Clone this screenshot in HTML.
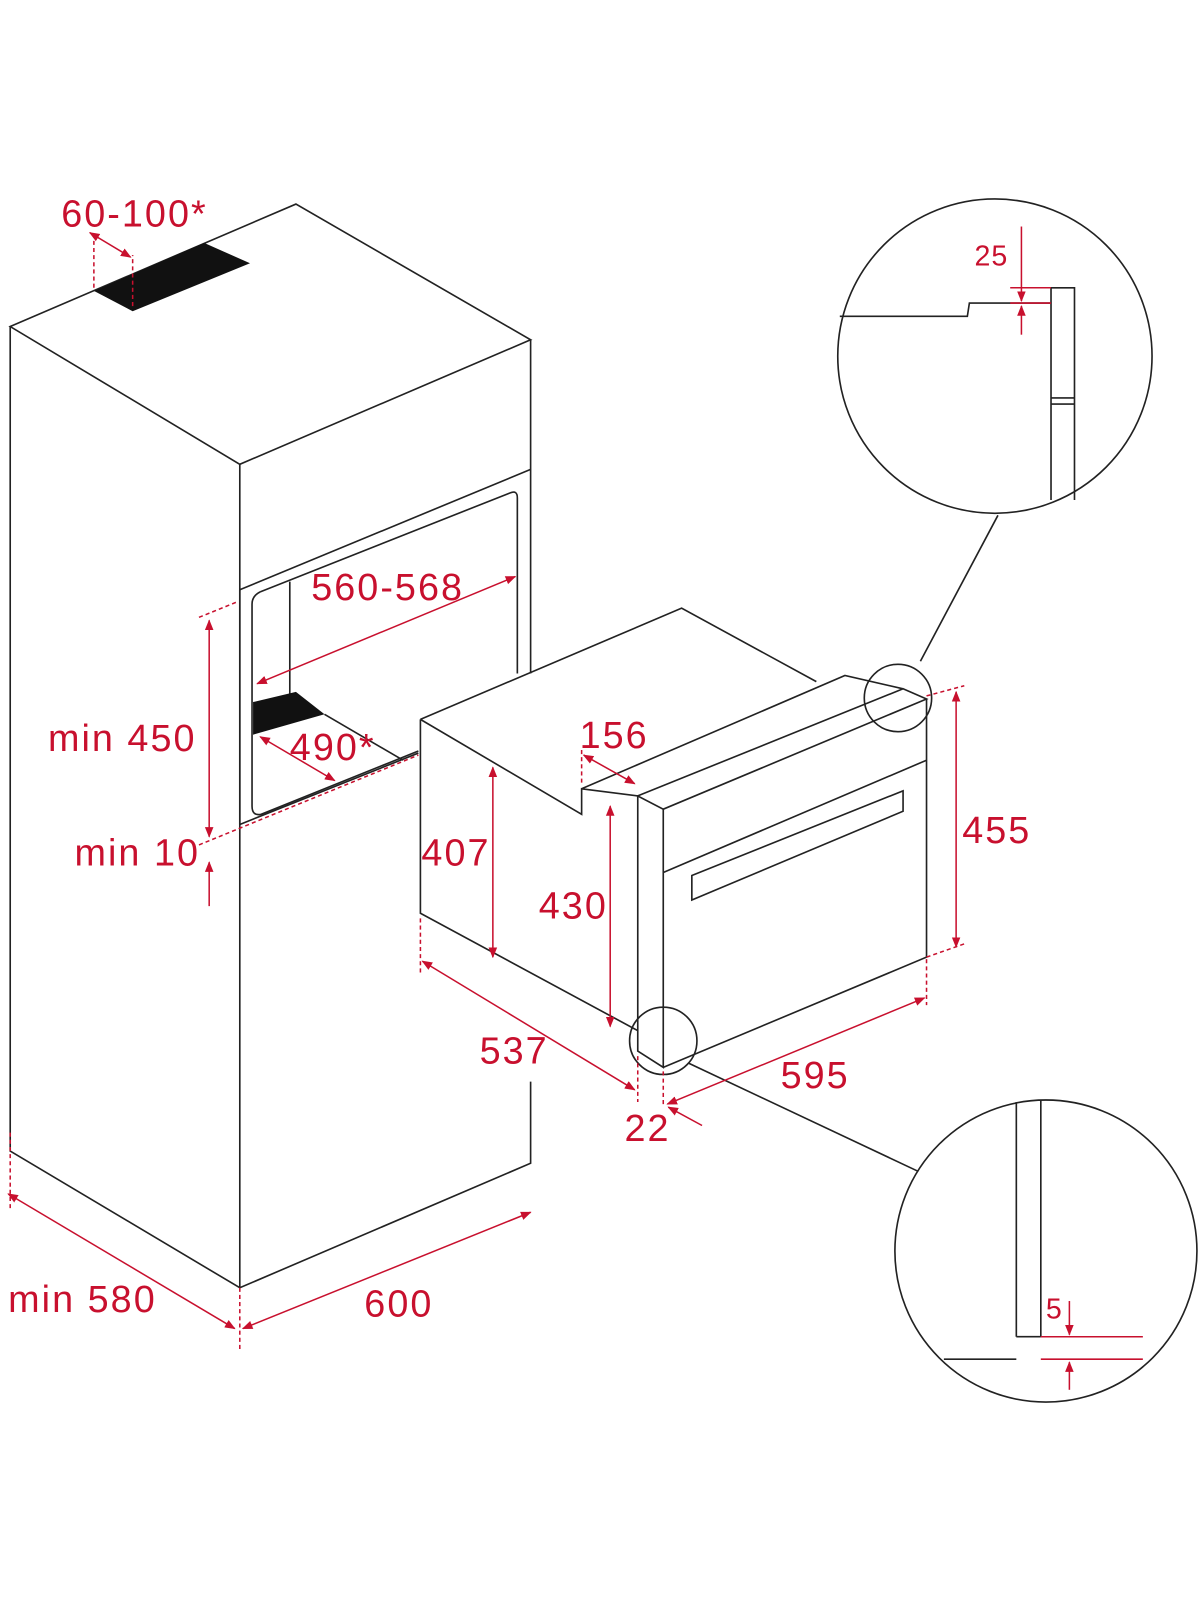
<!DOCTYPE html>
<html><head><meta charset="utf-8"><style>
html,body{margin:0;padding:0;background:#fff;}
svg{display:block}
text{font-family:"Liberation Sans",sans-serif;fill:#c8102e;font-size:37px;letter-spacing:2px}
</style></head><body>
<svg width="1200" height="1600" viewBox="0 0 1176 1568" xmlns="http://www.w3.org/2000/svg">
<defs>
<marker id="a" viewBox="0 0 10 10" refX="9" refY="5" markerWidth="7" markerHeight="7" orient="auto-start-reverse"><path d="M0,1 L10,5 L0,9 z" fill="#c8102e"/></marker>
</defs>
<g fill="none" stroke="#222" stroke-width="1.6">
<path d="M10,320 L290,200 L520,333 L235,455 Z"/>
<path d="M10,320 L10,1128 L235,1262 L520,1140 L520,1060"/>
<path d="M235,455 L235,1262"/>
<path d="M520,333 L520,660"/>
<path d="M235,578 L520,460"/>
<path d="M235,808 L410,738"/>
<path d="M235,578 L235,808"/>
<path d="M255,580 L500,483 Q507,480 507,488 L507,660"/>
<path d="M255,580 Q247,584 247,592 L247,790 Q247,800 256,798 L410,736"/>
<path d="M284,570 L284,680"/>
<path d="M318,700 L395,745"/>
<path d="M412,705 L668,596 L800,668"/>
<path d="M412,705 L412,895 L625,1010"/>
<path d="M412,705 L570,798 L570,773 L625,780"/>
<path d="M570,773 L828,662 L885,675"/>
<path d="M625,780 L885,675 L908,685 L650,793 Z"/>
<path d="M625,780 L625,1030 L650,1046 L650,793"/>
<path d="M650,1046 L908,938 L908,685"/>
<path d="M650,855 L908,745"/>
<path d="M678,858 L885,775 L885,795 L678,882 Z"/>
<circle cx="975" cy="349" r="154"/>
<circle cx="1025" cy="1226" r="148"/>
<circle cx="880" cy="684" r="33"/>
<circle cx="650" cy="1020" r="33"/>
<path d="M902,648 L978,505"/>
<path d="M675,1042 L900,1148"/>
<path d="M823,310 L948,310 L950,297 L1030,297"/>
<path d="M1030,282 L1053,282 L1053,490 M1030,282 L1030,490 M1030,390 L1053,390 M1030,396 L1053,396"/>
<path d="M996,1080 L996,1310 M1020,1078 L1020,1310 M996,1310 L1020,1310"/>
<path d="M925,1332 L996,1332"/>
</g>
<g fill="#111">
<path d="M92,285 L200,238 L245,258 L130,305 Z"/>
<path d="M248,688 L290,678 L318,700 L248,720 Z"/>
</g>
<g stroke="#c8102e" stroke-width="1.5" fill="none">
<path d="M92,282 L92,232 M130,300 L130,250" stroke-dasharray="4,3"/>
<path d="M88,228 L128,252" marker-start="url(#a)" marker-end="url(#a)"/>
<path d="M252,670 L505,565" marker-start="url(#a)" marker-end="url(#a)"/>
<path d="M255,722 L328,765" marker-start="url(#a)" marker-end="url(#a)"/>
<path d="M195,605 L232,590 M195,828 L410,740" stroke-dasharray="4,3"/>
<path d="M205,608 L205,820" marker-start="url(#a)" marker-end="url(#a)"/>
<path d="M205,845 L205,888" marker-start="url(#a)"/>
<path d="M10,1110 L10,1185 M235,1262 L235,1325" stroke-dasharray="4,3"/>
<path d="M8,1170 L230,1302" marker-start="url(#a)" marker-end="url(#a)"/>
<path d="M238,1302 L520,1188" marker-start="url(#a)" marker-end="url(#a)"/>
<path d="M483,752 L483,938" marker-start="url(#a)" marker-end="url(#a)"/>
<path d="M598,790 L598,1006" marker-start="url(#a)" marker-end="url(#a)"/>
<path d="M412,900 L412,955 M625,1035 L625,1080 M650,1050 L650,1085 M908,940 L908,985" stroke-dasharray="4,3"/>
<path d="M414,942 L622,1068" marker-start="url(#a)" marker-end="url(#a)"/>
<path d="M654,1082 L906,978" marker-start="url(#a)" marker-end="url(#a)"/>
<path d="M572,740 L622,768" marker-start="url(#a)" marker-end="url(#a)"/>
<path d="M570,735 L570,770" stroke-dasharray="4,3"/>
<path d="M908,682 L945,672 M908,938 L945,925" stroke-dasharray="4,3"/>
<path d="M937,678 L937,928" marker-start="url(#a)" marker-end="url(#a)"/>
<path d="M655,1085 L688,1103" marker-start="url(#a)"/>
<path d="M1001,222 L1001,295" marker-end="url(#a)"/>
<path d="M1001,328 L1001,300" marker-end="url(#a)"/>
<path d="M990,282 L1030,282 M990,297 L1030,297"/>
<path d="M1048,1275 L1048,1308" marker-end="url(#a)"/>
<path d="M1048,1362 L1048,1335" marker-end="url(#a)"/>
<path d="M1020,1310 L1120,1310 M1020,1332 L1120,1332"/>
</g>
<text x="60" y="222">60-100*</text>
<text x="305" y="588">560-568</text>
<text x="284" y="745">490*</text>
<text x="47" y="736">min 450</text>
<text x="73" y="848">min 10</text>
<text x="8" y="1286">min 580</text>
<text x="357" y="1290">600</text>
<text x="413" y="848">407</text>
<text x="528" y="900">430</text>
<text x="568" y="733">156</text>
<text x="943" y="826">455</text>
<text x="470" y="1042">537</text>
<text x="765" y="1066">595</text>
<text x="612" y="1118">22</text>
<text x="955" y="260" style="font-size:28px;letter-spacing:1px">25</text>
<text x="1025" y="1292" style="font-size:28px;letter-spacing:1px">5</text>
</svg>
</body></html>
